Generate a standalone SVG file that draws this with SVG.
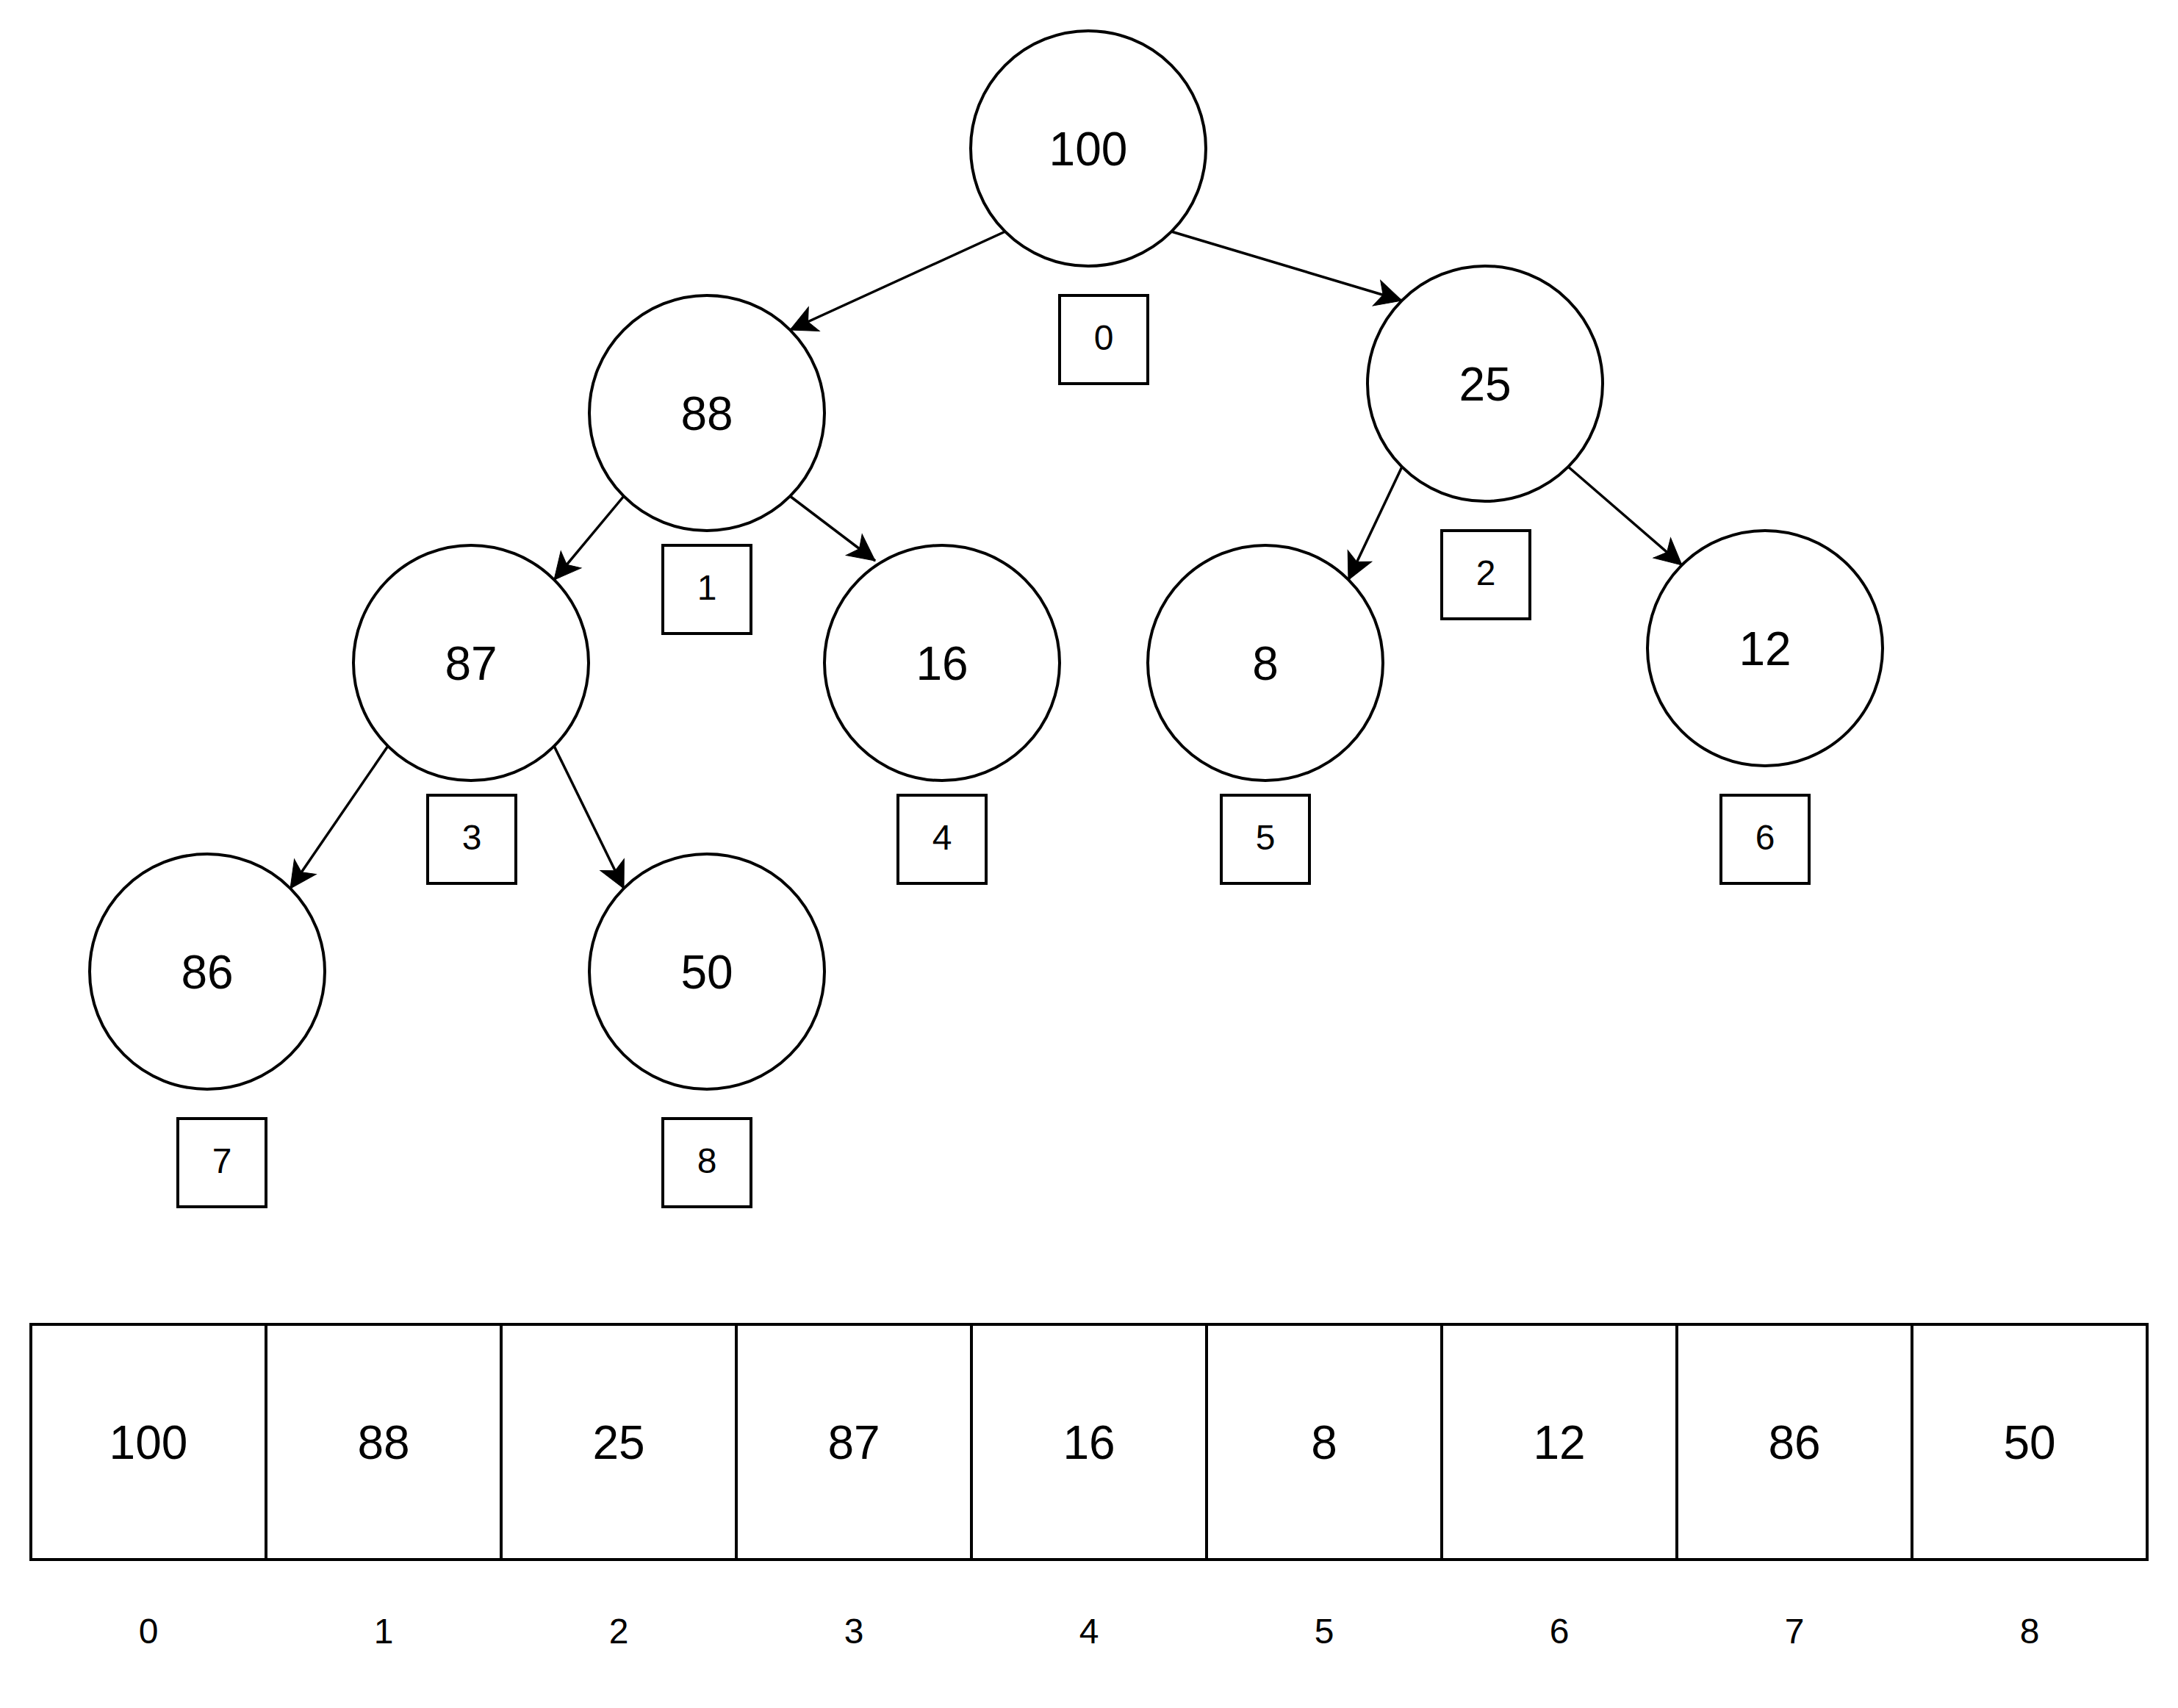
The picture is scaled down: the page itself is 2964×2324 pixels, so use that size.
<svg xmlns="http://www.w3.org/2000/svg" width="2964" height="2324" viewBox="0 0 2964 2324">
<defs>
<style>
.c{fill:#fff;stroke:#000;stroke-width:4}
.b{fill:#fff;stroke:#000;stroke-width:4}
.e{fill:none;stroke:#000;stroke-width:3.5;marker-end:url(#arr)}
.t64{font-family:"Liberation Sans",Arial,sans-serif;font-size:64px;text-anchor:middle;fill:#000}
.t48{font-family:"Liberation Sans",Arial,sans-serif;font-size:48px;text-anchor:middle;fill:#000}
</style>
<marker id="arr" markerUnits="userSpaceOnUse" viewBox="-40 -20 44 40" refX="0" refY="0" markerWidth="44" markerHeight="40" orient="auto">
<path d="M0,0 L-36,-18 L-27,0 L-36,18 Z" fill="#000" stroke="#000" stroke-width="1"/>
</marker>
</defs>
<rect width="2964" height="2324" fill="#fff"/>
<g id="connectors">
<line class="e" x1="1368" y1="315" x2="1075" y2="449"/>
<line class="e" x1="1594" y1="315" x2="1908" y2="409"/>
<line class="e" x1="849" y1="675" x2="754" y2="789"/>
<line class="e" x1="1075" y1="675" x2="1191" y2="763"/>
<line class="e" x1="1908" y1="635" x2="1835" y2="789"/>
<line class="e" x1="2134" y1="635" x2="2289" y2="769"/>
<line class="e" x1="528" y1="1015" x2="395" y2="1209"/>
<line class="e" x1="754" y1="1015" x2="849" y2="1209"/>
</g>
<g id="n100"><circle class="c" cx="1481" cy="202" r="160"/><text class="t64" x="1481" y="225">100</text></g>
<g id="n88"><circle class="c" cx="962" cy="562" r="160"/><text class="t64" x="962" y="585">88</text></g>
<g id="n25"><circle class="c" cx="2021" cy="522" r="160"/><text class="t64" x="2021" y="545">25</text></g>
<g id="n87"><circle class="c" cx="641" cy="902" r="160"/><text class="t64" x="641" y="925">87</text></g>
<g id="n16"><circle class="c" cx="1282" cy="902" r="160"/><text class="t64" x="1282" y="925">16</text></g>
<g id="n8"><circle class="c" cx="1722" cy="902" r="160"/><text class="t64" x="1722" y="925">8</text></g>
<g id="n12"><circle class="c" cx="2402" cy="882" r="160"/><text class="t64" x="2402" y="905">12</text></g>
<g id="n86"><circle class="c" cx="282" cy="1322" r="160"/><text class="t64" x="282" y="1345">86</text></g>
<g id="n50"><circle class="c" cx="962" cy="1322" r="160"/><text class="t64" x="962" y="1345">50</text></g>
<g id="i0"><rect class="b" x="1442" y="402" width="120" height="120"/><text class="t48" x="1502" y="476">0</text></g>
<g id="i1"><rect class="b" x="902" y="742" width="120" height="120"/><text class="t48" x="962" y="816">1</text></g>
<g id="i2"><rect class="b" x="1962" y="722" width="120" height="120"/><text class="t48" x="2022" y="796">2</text></g>
<g id="i3"><rect class="b" x="582" y="1082" width="120" height="120"/><text class="t48" x="642" y="1156">3</text></g>
<g id="i4"><rect class="b" x="1222" y="1082" width="120" height="120"/><text class="t48" x="1282" y="1156">4</text></g>
<g id="i5"><rect class="b" x="1662" y="1082" width="120" height="120"/><text class="t48" x="1722" y="1156">5</text></g>
<g id="i6"><rect class="b" x="2342" y="1082" width="120" height="120"/><text class="t48" x="2402" y="1156">6</text></g>
<g id="i7"><rect class="b" x="242" y="1522" width="120" height="120"/><text class="t48" x="302" y="1596">7</text></g>
<g id="i8"><rect class="b" x="902" y="1522" width="120" height="120"/><text class="t48" x="962" y="1596">8</text></g>
<g id="array">
<g id="a0"><rect class="b" x="42" y="1802" width="320" height="320"/><text class="t64" x="202" y="1985">100</text></g>
<g id="a1"><rect class="b" x="362" y="1802" width="320" height="320"/><text class="t64" x="522" y="1985">88</text></g>
<g id="a2"><rect class="b" x="682" y="1802" width="320" height="320"/><text class="t64" x="842" y="1985">25</text></g>
<g id="a3"><rect class="b" x="1002" y="1802" width="320" height="320"/><text class="t64" x="1162" y="1985">87</text></g>
<g id="a4"><rect class="b" x="1322" y="1802" width="320" height="320"/><text class="t64" x="1482" y="1985">16</text></g>
<g id="a5"><rect class="b" x="1642" y="1802" width="320" height="320"/><text class="t64" x="1802" y="1985">8</text></g>
<g id="a6"><rect class="b" x="1962" y="1802" width="320" height="320"/><text class="t64" x="2122" y="1985">12</text></g>
<g id="a7"><rect class="b" x="2282" y="1802" width="320" height="320"/><text class="t64" x="2442" y="1985">86</text></g>
<g id="a8"><rect class="b" x="2602" y="1802" width="320" height="320"/><text class="t64" x="2762" y="1985">50</text></g>
</g>
<g id="indices">
<text class="t48" x="202" y="2236">0</text>
<text class="t48" x="522" y="2236">1</text>
<text class="t48" x="842" y="2236">2</text>
<text class="t48" x="1162" y="2236">3</text>
<text class="t48" x="1482" y="2236">4</text>
<text class="t48" x="1802" y="2236">5</text>
<text class="t48" x="2122" y="2236">6</text>
<text class="t48" x="2442" y="2236">7</text>
<text class="t48" x="2762" y="2236">8</text>
</g>
</svg>
